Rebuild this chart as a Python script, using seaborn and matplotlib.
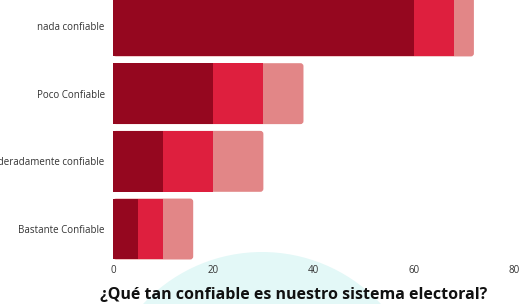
import numpy as np
import pandas as pd
import seaborn as sns
import matplotlib.pyplot as plt
from matplotlib.patches import FancyBboxPatch, Ellipse

categorias = ["nada confiable", "Poco Confiable", "Moderadamente confiable", "Bastante Confiable"]
serie_1 = [60, 20, 10, 5]
serie_2 = [8, 10, 10, 5]
serie_3 = [4, 8, 10, 6]
ticks_x = [0, 20, 40, 60, 80]

colores = ["#95071f", "#de1f3e", "#e28687"]

sns.set_theme(style="white")
plt.rcParams["font.family"] = ["Open Sans", "DejaVu Sans"]

acum = np.cumsum(np.array([serie_1, serie_2, serie_3]), axis=0)
df = pd.DataFrame({"categoria": categorias,
                   "s1": acum[0], "s2": acum[1], "s3": acum[2]})

fig = plt.figure(figsize=(5.28, 3.04), dpi=100)
fig.patch.set_facecolor("white")

# circulo de fondo
fig.patches.append(Ellipse((262 / 528, -110 / 304), 2 * 162 / 528, 2 * 162 / 304,
                           transform=fig.transFigure, facecolor="#e3f8f7",
                           edgecolor="none", zorder=-5))

ax = fig.add_axes([113 / 528, 44.5 / 304, 401 / 528, 264 / 304])
ax.patch.set_alpha(0)
ax.set_zorder(2)

# barras apiladas: total primero, luego las parciales encima
sns.barplot(data=df, y="categoria", x="s3", color=colores[2], width=0.9,
            saturation=1, ax=ax, orient="h", linewidth=0)
for p in list(ax.patches):
    x0, y0 = p.get_x(), p.get_y()
    w, h = p.get_width(), p.get_height()
    p.remove()
    ax.add_patch(FancyBboxPatch((x0, y0), w, h,
                                boxstyle="round,pad=0,rounding_size=0.6",
                                mutation_aspect=0.074,
                                facecolor=colores[2], edgecolor="none", linewidth=0))
sns.barplot(data=df, y="categoria", x="s2", color=colores[1], width=0.9,
            saturation=1, ax=ax, orient="h", linewidth=0)
sns.barplot(data=df, y="categoria", x="s1", color=colores[0], width=0.9,
            saturation=1, ax=ax, orient="h", linewidth=0)

ax.set_xlim(0, 80)
ax.set_ylim(3.45, -0.45)
ax.set_xticks(ticks_x)
ax.set_xlabel("")
ax.set_ylabel("")
ax.tick_params(axis="both", length=0, labelsize=7, colors="#333333", pad=6)
ax.tick_params(axis="x", pad=4)
for s in ax.spines.values():
    s.set_visible(False)
ax.grid(False)

fig.text(294 / 528, 1 - 295 / 304, "¿Qué tan confiable es nuestro sistema electoral?",
         ha="center", va="center", fontsize=11.5, fontweight="bold", color="#111111",
         zorder=5)

fig.savefig("out.png", dpi=100)
